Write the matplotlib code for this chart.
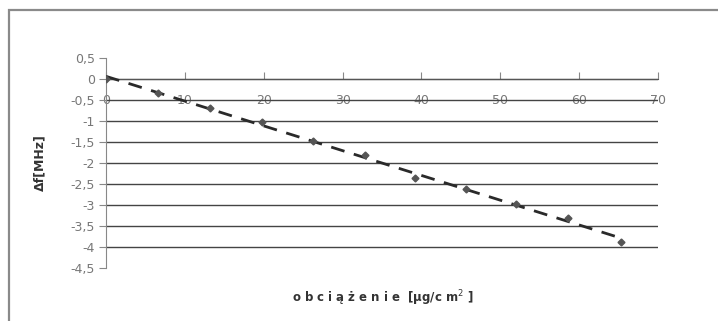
import numpy as np
import matplotlib
matplotlib.use('Agg')
import matplotlib.pyplot as plt
from matplotlib.ticker import FuncFormatter, MultipleLocator
from matplotlib.patches import Rectangle

# readings from the chart
load = [0, 6.6, 13.2, 19.8, 26.2, 32.8, 39.2, 45.6, 52.0, 58.6, 65.3]
df = [0, -0.33, -0.70, -1.02, -1.48, -1.82, -2.36, -2.62, -2.98, -3.30, -3.88]

x_label = 'o b c i ą ż e n i e  [μg/c m$^{2}$ ]'
y_label = 'Δf[MHz]'

fig = plt.figure(figsize=(7.18, 3.21), dpi=100)
fig.patch.set_facecolor('white')
fig.patches.append(Rectangle((0.012, -0.02), 1.2, 0.99, transform=fig.transFigure,
                             fill=False, edgecolor='#8a8a8a', lw=1.6))

ax = fig.add_axes([0.1476, 0.1651, 0.7688, 0.6542])
ax.set_xlim(0, 70)
ax.set_ylim(-4.5, 0.5)

# trendline
slope, icpt = np.polyfit(load, df, 1)
xt = np.array([0, max(load)])
ax.plot(xt, slope * xt + icpt, color='#2a2a2a', lw=2, dashes=(5, 3.5), zorder=3)
ax.plot(load, df, linestyle='none', marker='D', ms=3.5, color='#555555', zorder=4)

for s in ['top', 'right']:
    ax.spines[s].set_visible(False)
ax.spines['bottom'].set_position(('data', 0))
ax.spines['bottom'].set_color('#555555')
ax.spines['left'].set_color('#888888')

ax.xaxis.set_major_locator(MultipleLocator(10))
ax.yaxis.set_major_locator(MultipleLocator(0.5))
fmt = FuncFormatter(lambda v, p: ('%g' % v).replace('.', ',').replace('\u2212', '-'))
ax.xaxis.set_major_formatter(fmt)
ax.yaxis.set_major_formatter(fmt)
ax.tick_params(axis='x', direction='in', length=5, pad=11, colors='#888888',
               labelsize=9, labelcolor='#777777')
ax.tick_params(axis='y', direction='out', length=5, pad=3, colors='#888888',
               labelsize=9, labelcolor='#777777')

ax.yaxis.grid(True, color='#444444', lw=1.0)
fig.canvas.draw()
lo, hi = ax.get_ylim()
for t in ax.yaxis.get_major_ticks():
    if abs(t.get_loc() - lo) < 1e-6 or abs(t.get_loc() - hi) < 1e-6:
        t.gridline.set_visible(False)
ax.set_axisbelow(True)

ax.set_ylabel(y_label, fontsize=9, fontweight='bold', color='#333333', labelpad=17)
fig.text(0.533, 0.07, x_label, ha='center', va='center', fontsize=8.5,
         fontweight='bold', color='#333333')

fig.savefig('out.png', dpi=100)
